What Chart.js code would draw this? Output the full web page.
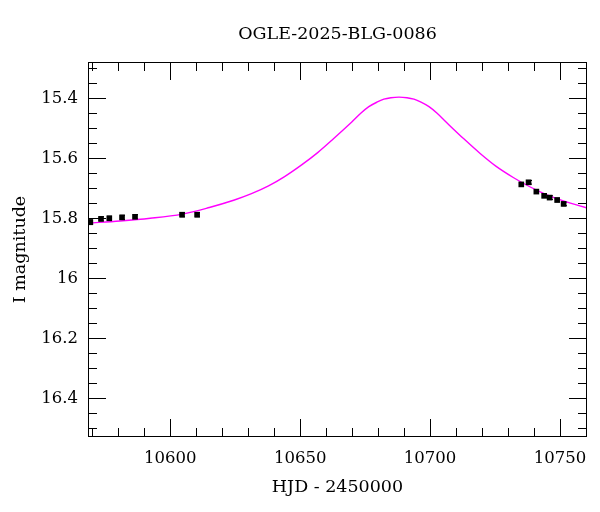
<!DOCTYPE html>
<html>
<head>
<meta charset="utf-8">
<script src="https://cdn.jsdelivr.net/npm/chart.js@4.4.1/dist/chart.umd.min.js"></script>
<style>
  html, body { margin: 0; padding: 0; background: #fff; }
  #wrap { width: 600px; height: 512px; }
</style>
</head>
<body>
<div id="wrap"><canvas id="c" width="600" height="512"></canvas></div>
<script>
// Observed photometry (HJD - 2450000, I mag, error)
const obsHjd = [10569.2, 10573.3, 10576.5, 10581.4, 10586.4, 10604.5, 10610.3,
                10735.1, 10737.9, 10740.9, 10743.9, 10746.0, 10748.9, 10751.4];
const obsMag = [15.813, 15.802, 15.800, 15.797, 15.795, 15.788, 15.788,
                15.687, 15.680, 15.711, 15.725, 15.731, 15.739, 15.752];
const obsErr = [0.008, 0.007, 0.007, 0.007, 0.007, 0.007, 0.007,
                0.006, 0.006, 0.006, 0.006, 0.006, 0.006, 0.006];

// Model curve
const modelHjd = [10568.30, 10580.66, 10592.24, 10604.59, 10615.02, 10624.67, 10631.24,
                  10637.80, 10643.98, 10650.54, 10656.72, 10662.90, 10669.85, 10673.30,
                  10676.41, 10679.50, 10682.20, 10684.90, 10688.00, 10691.09, 10693.78,
                  10696.50, 10699.57, 10702.70, 10706.14, 10713.09, 10719.27,
                  10725.44, 10732.01, 10738.19, 10744.75, 10751.31, 10760.96];
const modelMag = [15.816, 15.809, 15.800, 15.786, 15.764, 15.739, 15.718,
                  15.692, 15.661, 15.622, 15.581, 15.534, 15.479, 15.450,
                  15.428, 15.413, 15.403, 15.398, 15.396, 15.398, 15.403,
                  15.413, 15.428, 15.450, 15.479, 15.536, 15.584,
                  15.627, 15.664, 15.694, 15.721, 15.742, 15.767];

// Axis ticks
const xTicks = [10600, 10650, 10700, 10750];
const xTickLabels = ['10600', '10650', '10700', '10750'];
const xMinor = [10570, 10580, 10590, 10610, 10620, 10630, 10640, 10660, 10670, 10680,
                10690, 10710, 10720, 10730, 10740, 10760];
const yTicks = [15.4, 15.6, 15.8, 16.0, 16.2, 16.4];
const yTickLabels = ['15.4', '15.6', '15.8', '16', '16.2', '16.4'];
const yMinor = [15.3, 15.35, 15.45, 15.5, 15.55, 15.65, 15.7, 15.75, 15.85, 15.9, 15.95,
                16.05, 16.1, 16.15, 16.25, 16.3, 16.35, 16.45, 16.5];

const FONT = '"DejaVu Serif", "Liberation Serif", serif';

const frameTicks = {
  id: 'frameTicks',
  afterDraw(chart) {
    const { ctx, chartArea: a, scales: { x, y } } = chart;
    ctx.save();
    ctx.strokeStyle = '#000';
    ctx.lineWidth = 1;
    ctx.strokeRect(a.left + 0.5, a.top + 0.5, a.right - a.left - 1, a.bottom - a.top - 1);
    const MAJ = 18, MIN = 9;
    ctx.beginPath();
    const xt = (v, len) => {
      const px = Math.round(x.getPixelForValue(v)) + 0.5;
      ctx.moveTo(px, a.bottom); ctx.lineTo(px, a.bottom - len);
      ctx.moveTo(px, a.top); ctx.lineTo(px, a.top + len);
    };
    const yt = (v, len) => {
      const py = Math.round(y.getPixelForValue(v)) + 0.5;
      ctx.moveTo(a.left, py); ctx.lineTo(a.left + len, py);
      ctx.moveTo(a.right, py); ctx.lineTo(a.right - len, py);
    };
    xTicks.forEach(v => xt(v, MAJ));
    xMinor.forEach(v => xt(v, MIN));
    yTicks.forEach(v => yt(v, MAJ));
    yMinor.forEach(v => yt(v, MIN));
    ctx.stroke();
    ctx.restore();
  }
};

const errorBars = {
  id: 'errorBars',
  beforeDatasetsDraw(chart) {
    const { ctx, scales: { x, y } } = chart;
    ctx.save();
    ctx.strokeStyle = '#000';
    ctx.lineWidth = 1;
    ctx.beginPath();
    obsHjd.forEach((h, i) => {
      const px = Math.round(x.getPixelForValue(h)) + 0.5;
      const y1 = y.getPixelForValue(obsMag[i] - obsErr[i]);
      const y2 = y.getPixelForValue(obsMag[i] + obsErr[i]);
      ctx.moveTo(px, y1); ctx.lineTo(px, y2);
      ctx.moveTo(px - 2.5, y1); ctx.lineTo(px + 2.5, y1);
      ctx.moveTo(px - 2.5, y2); ctx.lineTo(px + 2.5, y2);
    });
    ctx.stroke();
    ctx.restore();
  }
};

new Chart(document.getElementById('c'), {
  type: 'scatter',
  data: {
    datasets: [
      {
        label: 'data',
        data: obsHjd.map((h, i) => ({ x: h, y: obsMag[i] })),
        pointStyle: 'rect',
        pointRadius: 4,
        pointBackgroundColor: '#000',
        pointBorderWidth: 0,
        order: 0
      },
      {
        label: 'model',
        type: 'line',
        data: modelHjd.map((h, i) => ({ x: h, y: modelMag[i] })),
        borderColor: '#ff00ff',
        borderWidth: 1.4,
        pointRadius: 0,
        fill: false,
        tension: 0.35,
        order: 1
      }
    ]
  },
  options: {
    responsive: false,
    animation: false,
    devicePixelRatio: 1,
    layout: { padding: { left: 0, right: 13, top: 0, bottom: 0 } },
    plugins: {
      legend: { display: false },
      tooltip: { enabled: false },
      title: {
        display: true,
        text: 'OGLE-2025-BLG-0086',
        fullSize: false,
        color: '#000',
        font: { family: FONT, size: 17.5, weight: 'normal', lineHeight: 1.2 },
        padding: { top: 24, bottom: 17 }
      }
    },
    scales: {
      x: {
        type: 'linear',
        min: 10568.3,
        max: 10760.4,
        grid: { display: false, drawTicks: false },
        border: { display: false },
        afterBuildTicks: s => { s.ticks = xTicks.map(v => ({ value: v })); },
        afterFit: s => { s.height = 75; },
        ticks: {
          color: '#000',
          padding: 12,
          maxRotation: 0,
          font: { family: FONT, size: 16.5 },
          callback: (v, i) => xTickLabels[i]
        },
        title: {
          display: true,
          text: 'HJD - 2450000',
          color: '#000',
          font: { family: FONT, size: 17.5, lineHeight: 1.2 },
          padding: { top: 0, bottom: 14.5 }
        }
      },
      y: {
        type: 'linear',
        reverse: true,
        min: 15.279,
        max: 16.529,
        grid: { display: false, drawTicks: false },
        border: { display: false },
        afterBuildTicks: s => { s.ticks = yTicks.map(v => ({ value: v })); },
        afterFit: s => { s.width = 88; },
        ticks: {
          color: '#000',
          padding: 10,
          font: { family: FONT, size: 16.5 },
          callback: (v, i) => yTickLabels[i]
        },
        title: {
          display: true,
          text: 'I magnitude',
          color: '#000',
          font: { family: FONT, size: 17.5, lineHeight: 1.2 },
          padding: { top: 9.5, bottom: 0 }
        }
      }
    }
  },
  plugins: [errorBars, frameTicks]
});
</script>
</body>
</html>
